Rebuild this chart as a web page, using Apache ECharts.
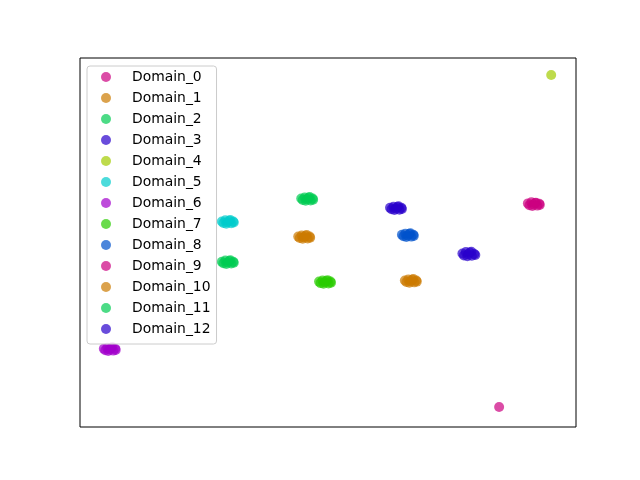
<!DOCTYPE html>
<html><head><meta charset="utf-8">
<script src="https://cdn.jsdelivr.net/npm/echarts@6/dist/echarts.min.js"></script>
<style>html,body{margin:0;padding:0;background:#fff}#c{width:640px;height:480px}</style>
</head><body><div id="c"></div>
<script>
const domainNames = ['Domain_0','Domain_1','Domain_2','Domain_3','Domain_4','Domain_5','Domain_6','Domain_7','Domain_8','Domain_9','Domain_10','Domain_11','Domain_12'];
const domainColors = ['#cc0080','#cc7a00','#00cc52','#2900cc','#a3cc00','#00cccc','#a300cc','#29cc00','#0052cc','#cc0080','#cc7a00','#00cc52','#2900cc'];

const d0 = [[90.3,60.6],[90.6,60.1],[91.0,60.9],[91.4,60.3],[91.8,60.7],[92.2,60.0],[92.6,60.5],[92.7,60.2],[91.2,59.9],[91.9,60.8]];
const d1 = [[44.0,51.6],[44.3,51.2],[44.7,51.9],[45.1,51.4],[45.5,51.8],[45.9,51.1],[46.3,51.6],[46.4,51.3],[44.9,51.0],[45.7,52.0]];
const d2 = [[44.6,61.9],[44.9,61.5],[45.3,62.2],[45.7,61.7],[46.1,62.1],[46.5,61.4],[46.9,61.9],[47.0,61.6],[45.5,61.3],[46.3,62.3]];
const d3 = [[62.5,59.4],[62.8,59.0],[63.2,59.7],[63.6,59.2],[64.0,59.6],[64.4,58.9],[64.8,59.4],[64.9,59.1],[63.4,58.8],[64.2,59.8]];
const d4 = [[95.0,95.4]];
const d5 = [[28.6,55.7],[28.9,55.3],[29.3,56.0],[29.7,55.5],[30.1,55.9],[30.5,55.2],[30.9,55.7],[31.0,55.4],[29.5,55.1],[30.3,56.1]];
const d6 = [[4.8,21.2],[5.1,20.8],[5.5,21.5],[5.9,21.0],[6.3,21.4],[6.7,20.7],[7.1,21.2],[7.2,20.9],[5.7,20.6],[6.5,21.6]];
const d7 = [[48.2,39.4],[48.5,39.0],[48.9,39.7],[49.3,39.2],[49.7,39.6],[50.1,38.9],[50.5,39.4],[50.6,39.1],[49.1,38.8],[49.9,39.8]];
const d8 = [[64.9,52.1],[65.2,51.7],[65.6,52.4],[66.0,51.9],[66.4,52.3],[66.8,51.6],[67.2,52.1],[67.3,51.8],[65.8,51.5],[66.6,52.5]];
const d9 = [[84.5,5.4]];
const d10 = [[65.5,39.7],[65.8,39.3],[66.2,40.0],[66.6,39.5],[67.0,39.9],[67.4,39.2],[67.8,39.7],[67.9,39.4],[66.4,39.1],[67.2,40.1]];
const d11 = [[28.6,44.8],[28.9,44.4],[29.3,45.1],[29.7,44.6],[30.1,45.0],[30.5,44.3],[30.9,44.8],[31.0,44.5],[29.5,44.2],[30.3,45.2]];
const d12 = [[77.1,47.0],[77.4,46.5],[77.8,47.4],[78.2,46.8],[78.6,47.3],[79.0,46.4],[79.5,46.9],[79.7,46.6],[78.1,46.3],[78.9,47.5]];
const domainData = [d0,d1,d2,d3,d4,d5,d6,d7,d8,d9,d10,d11,d12];

const chart = echarts.init(document.getElementById('c'), null, {renderer:'canvas'});
chart.setOption({
  animation: false,
  grid: {left:80, right:64, top:58, bottom:53, show:true, borderColor:'#000', borderWidth:1, backgroundColor:'transparent'},
  xAxis: {type:'value', min:0, max:100, axisLine:{show:false}, axisTick:{show:false}, axisLabel:{show:false}, splitLine:{show:false}},
  yAxis: {type:'value', min:0, max:100, axisLine:{show:false}, axisTick:{show:false}, axisLabel:{show:false}, splitLine:{show:false}},
  legend: {
    orient:'vertical', left:87, top:66,
    padding:[4,6,8,14], itemGap:7, itemWidth:10, itemHeight:10, icon:'circle',
    backgroundColor:'rgba(255,255,255,0.8)', borderColor:'#cccccc', borderWidth:1, borderRadius:3,
    textStyle:{fontFamily:'DejaVu Sans', fontSize:13.9, color:'#000', lineHeight:14, padding:[0,0,0,16]},
    data: domainNames
  },
  series: domainNames.map((n,i)=>({
    name:n, type:'scatter', data:domainData[i], symbolSize:10,
    itemStyle:{color:domainColors[i], opacity:0.7}
  }))
});
</script></body></html>
